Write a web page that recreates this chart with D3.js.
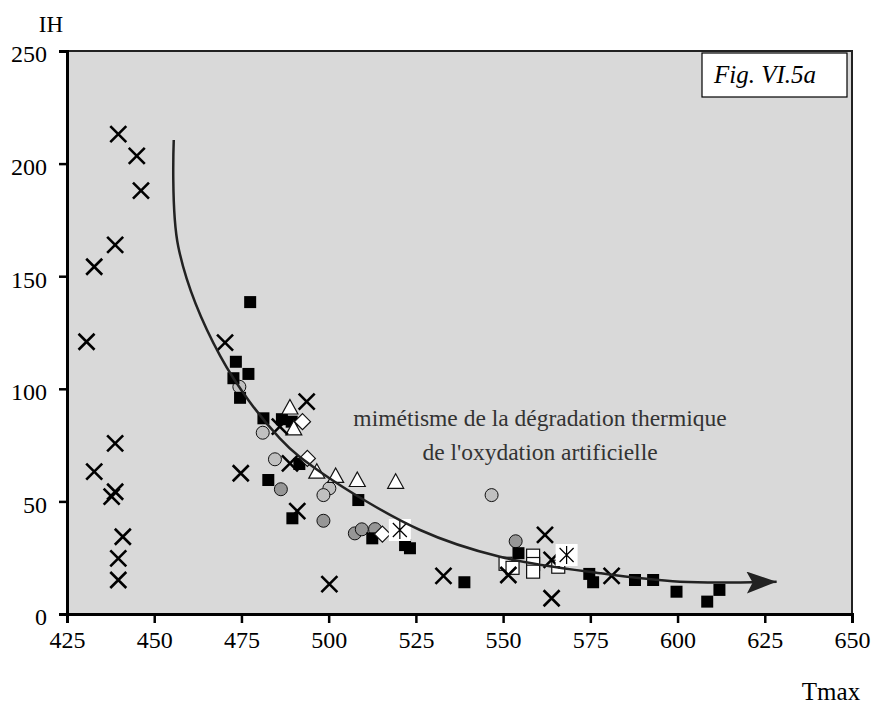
<!DOCTYPE html>
<html><head><meta charset="utf-8">
<script src="https://cdn.jsdelivr.net/npm/d3@7"></script>
<style>
body{margin:0;background:#fff;}
svg text{font-family:"Liberation Serif","Times New Roman",serif;}
</style></head>
<body><svg id="c" width="879" height="704"></svg>
<script>
// ---- data (Tmax, IH) ----
const xTicks = [425,450,475,500,525,550,575,600,625,650];
const yTicks = [0,50,100,150,200,250];
const crossX = [439.7,445,446.2,438.8,432.8,430.6,438.8,432.8,437.8,438.8,441,439.7,439.7,470.3,474.8,493.7,486,488.9,491,500.2,532.9,551.5,562,563.9,563.9,581.1];
const crossY = [213.1,203.4,188,163.9,154.2,120.9,75.8,63.2,52.1,54.3,34.3,24.7,15.1,120.5,62.5,94.3,83.2,66.9,45.7,13.3,16.9,17.3,35.1,24,7,16.9];
const blackSqX = [477.5,473.4,477,472.7,474.6,481.3,486.6,489.4,491.6,482.7,489.6,508.5,512.5,521.9,523.3,538.9,554.4,574.7,575.8,587.8,593,599.7,608.5,612];
const blackSqY = [138.5,112,106.6,104.7,96,86.9,86.5,85.4,66.6,59.5,42.5,50.6,33.6,30.6,29.2,14.1,27,17.8,14.1,15.1,15.1,9.9,5.5,10.7];
const lightCircX = [474.4,481.1,484.6,500.2,498.5,546.7];
const lightCircY = [100.9,80.5,68.7,55.8,52.8,52.8];
const darkCircX = [486.3,498.5,507.5,509.5,513.3,553.6];
const darkCircY = [55.4,41.4,35.8,37.6,37.7,32.3];
const triX = [488.9,490,496.6,502,508.2,519.2];
const triY = [91.7,82.4,63.2,61.3,59.5,58.7];
const diaX = [492.5,493.9,515.4];
const diaY = [85.4,69.1,35.5];
const openSqX = [550.7,552.7,558.6,558.6,558.6,565.8];
const openSqY = [22.3,20.5,25.9,22.2,18.8,21];
const starX = [520.4,568.2];
const starY = [37.3,26.2];
const curveX = [455.6,456.9,468.9,486,497.5,526.2,549.1,577.8,600.7,628.4];
const curveY = [210.5,163.1,114.6,78,63.2,37.3,25.4,18.1,14.3,14.3];
const noteLines = ["mimétisme de la dégradation thermique","de l'oxydation artificielle"];
const figLabel = "Fig. VI.5a";

// ---- layout ----
const L=67,R=852,T=51,B=614;
const svg=d3.select("#c");
const x=d3.scaleLinear().domain([425,650]).range([L,R]);
const y=d3.scaleLinear().domain([0,250]).range([B,T]);
const zip=(a,b)=>a.map((v,i)=>[v,b[i]]);

svg.append("rect").attr("x",L).attr("y",T).attr("width",R-L).attr("height",B-T)
  .attr("fill","#d9d9d9").attr("stroke","#222").attr("stroke-width",2);

// fig box
svg.append("rect").attr("x",702).attr("y",53).attr("width",145).attr("height",44)
  .attr("fill","#fff").attr("stroke","#000").attr("stroke-width",1.2);
svg.append("text").attr("x",765).attr("y",83).attr("text-anchor","middle")
  .attr("font-size",25).attr("font-style","italic").text(figLabel);

// axes
const xa=svg.append("g").attr("transform",`translate(0,${B})`)
  .call(d3.axisBottom(x).tickValues(xTicks).tickSize(9).tickFormat(d3.format("d")));
const ya=svg.append("g").attr("transform",`translate(${L},0)`)
  .call(d3.axisLeft(y).tickValues(yTicks).tickSize(8).tickPadding(12).tickFormat(d3.format("d")));
[xa,ya].forEach(g=>{
  g.select(".domain").attr("stroke","#000").attr("stroke-width",3);
  g.selectAll(".tick line").attr("stroke","#000").attr("stroke-width",2.5);
  g.selectAll(".tick text").attr("font-size",24).attr("fill","#000");
});
xa.selectAll(".tick text").attr("y",26).attr("dy","0.35em");
ya.selectAll(".tick text").attr("dy","0.45em");

svg.append("text").attr("x",51).attr("y",32).attr("text-anchor","middle").attr("font-size",23).text("IH");
svg.append("text").attr("x",831).attr("y",700).attr("text-anchor","middle").attr("font-size",25).text("Tmax");

// markers
const g=svg.append("g");
g.selectAll(".lc").data(zip(lightCircX,lightCircY)).join("circle")
  .attr("cx",d=>x(d[0])).attr("cy",d=>y(d[1])).attr("r",6.5)
  .attr("fill","#c0c0c0").attr("stroke","#111").attr("stroke-width",1);
g.selectAll(".dc").data(zip(darkCircX,darkCircY)).join("circle")
  .attr("cx",d=>x(d[0])).attr("cy",d=>y(d[1])).attr("r",6.5)
  .attr("fill","#969696").attr("stroke","#111").attr("stroke-width",1);
g.selectAll(".os").data(zip(openSqX,openSqY)).join("rect")
  .attr("x",d=>x(d[0])-6.5).attr("y",d=>y(d[1])-6.5).attr("width",13).attr("height",13)
  .attr("fill","#fff").attr("stroke","#111").attr("stroke-width",1.2);
g.selectAll(".bs").data(zip(blackSqX,blackSqY)).join("rect")
  .attr("x",d=>x(d[0])-6).attr("y",d=>y(d[1])-6).attr("width",12).attr("height",12)
  .attr("fill","#000");
g.selectAll(".tr").data(zip(triX,triY)).join("path")
  .attr("transform",d=>`translate(${x(d[0])},${y(d[1])})`)
  .attr("d","M0,-8L8,6.5L-8,6.5Z").attr("fill","#fff").attr("stroke","#111").attr("stroke-width",1.2);
g.selectAll(".di").data(zip(diaX,diaY)).join("path")
  .attr("transform",d=>`translate(${x(d[0])},${y(d[1])})`)
  .attr("d","M0,-8L8,0L0,8L-8,0Z").attr("fill","#fff").attr("stroke","#111").attr("stroke-width",1.2);
g.selectAll(".cx").data(zip(crossX,crossY)).join("path")
  .attr("transform",d=>`translate(${x(d[0])},${y(d[1])})`)
  .attr("d","M-8,-8L8,8M8,-8L-8,8").attr("stroke","#000").attr("stroke-width",2.6).attr("fill","none");
const st=g.selectAll(".st").data(zip(starX,starY)).join("g")
  .attr("transform",d=>`translate(${x(d[0])},${y(d[1])})`);
st.append("rect").attr("x",-11).attr("y",-11).attr("width",22).attr("height",22).attr("fill","#fff");
st.append("path").attr("d","M-7,-7L7,7M7,-7L-7,7M0,-9L0,9").attr("stroke","#000").attr("stroke-width",1.2);

// curve with arrow
svg.append("defs").append("marker").attr("id","arr").attr("viewBox","0 0 30 22")
  .attr("refX",30).attr("refY",11).attr("markerWidth",30).attr("markerHeight",22)
  .attr("markerUnits","userSpaceOnUse").attr("orient","auto")
  .append("path").attr("d","M0,0L30,11L0,22L6,11Z").attr("fill","#222");
const line=d3.line().x(d=>x(d[0])).y(d=>y(d[1])).curve(d3.curveCatmullRom.alpha(0.5));
svg.append("path").datum(zip(curveX,curveY)).attr("d",line)
  .attr("fill","none").attr("stroke","#222").attr("stroke-width",2.5).attr("marker-end","url(#arr)");

// annotation
noteLines.forEach((t,i)=>svg.append("text").attr("x",540).attr("y",426+i*34)
  .attr("text-anchor","middle").attr("font-size",23.5).attr("fill","#333").text(t));
</script></body></html>
